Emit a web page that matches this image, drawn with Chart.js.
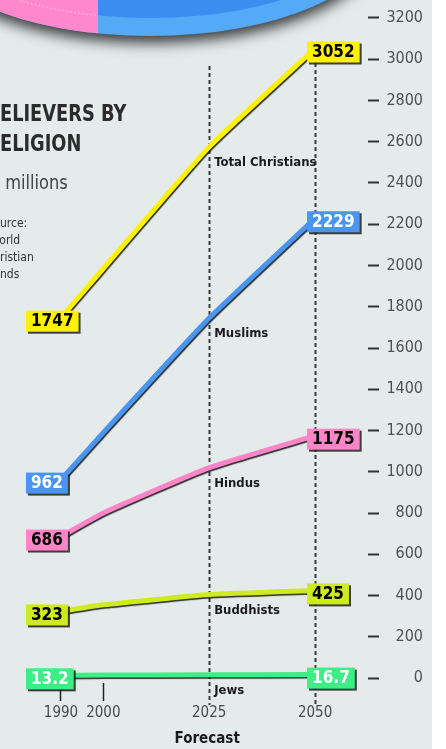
<!DOCTYPE html>
<html>
<head>
<meta charset="utf-8">
<script src="https://cdn.jsdelivr.net/npm/chart.js@4"></script>
<style>
  html, body { margin: 0; padding: 0; background: #ffffff; }
  #wrap { position: relative; width: 446px; height: 749px; }
</style>
</head>
<body>
<div id="wrap"><canvas id="chart" width="446" height="749"></canvas></div>
<script>
// Data (millions of believers)
const years = [1990, 2000, 2025, 2050];
const christians = [1747, 1985, 2575, 3052];
const muslims = [962, 1190, 1745, 2229];
const hindus = [686, 800, 1020, 1175];
const buddhists = [323, 355, 405, 425];
const jews = [13.2, 14.5, 15.8, 16.7];

const seriesNames = ['Total Christians', 'Muslims', 'Hindus', 'Buddhists', 'Jews'];
const seriesColors = ['#fff200', '#4a95ef', '#ff85c8', '#cdeb1e', '#3ded85'];
const boxText = ['#000', '#fff', '#000', '#000', '#fff'];
const leftLabels = ['1747', '962', '686', '323', '13.2'];
const rightLabels = ['3052', '2229', '1175', '425', '16.7'];

const xTicks = [1990, 2000, 2025, 2050];
const yTicks = [0, 200, 400, 600, 800, 1000, 1200, 1400, 1600, 1800, 2000, 2200, 2400, 2600, 2800, 3000, 3200];
const forecastYears = [2025, 2050];

const allSeries = [christians, muslims, hindus, buddhists, jews];

const narrow = '"Liberation Sans Narrow", "DejaVu Sans Condensed", sans-serif';

// Panel background, pie edge at the top and the side texts
const backdrop = {
  id: 'backdrop',
  beforeDraw(chart) {
    const ctx = chart.ctx;
    ctx.save();
    ctx.fillStyle = '#ffffff';
    ctx.fillRect(0, 0, 446, 749);
    ctx.fillStyle = '#e5ebeb';
    ctx.fillRect(0, 0, 432, 749);

    // pie (cut off at the top)
    ctx.save();
    ctx.shadowColor = 'rgba(0,0,0,0.75)';
    ctx.shadowBlur = 14;
    ctx.shadowOffsetY = 7;
    ctx.beginPath();
    ctx.ellipse(150, -64, 230, 100, 0, 0, Math.PI * 2);
    ctx.fillStyle = '#55aaf8';
    ctx.fill();
    ctx.restore();

    ctx.save();
    ctx.beginPath();
    ctx.ellipse(150, -64, 230, 100, 0, 0, Math.PI * 2);
    ctx.clip();
    ctx.beginPath();
    ctx.ellipse(150, -82, 230, 100, 0, 0, Math.PI * 2);
    ctx.fillStyle = '#3b8ef0';
    ctx.fill();
    ctx.fillStyle = '#ff88cc';
    ctx.fillRect(0, -200, 98, 300);
    ctx.beginPath();
    ctx.rect(0, -200, 98, 300);
    ctx.clip();
    ctx.setLineDash([1, 3]);
    ctx.strokeStyle = 'rgba(255,255,255,0.9)';
    ctx.lineWidth = 1;
    ctx.beginPath();
    ctx.ellipse(150, -82, 230, 100, 0, 0, Math.PI * 2);
    ctx.stroke();
    ctx.restore();

    // title block, cut off at the left edge
    const cut = (full, hidden, y, font, color, sx) => {
      ctx.save();
      ctx.font = font;
      ctx.fillStyle = color;
      ctx.textAlign = 'left';
      ctx.textBaseline = 'alphabetic';
      ctx.scale(sx, 1);
      ctx.fillText(full, -ctx.measureText(hidden).width, y);
      ctx.restore();
    };
    const titleFont = 'bold 23px ' + narrow;
    cut('BELIEVERS BY', 'B', 121, titleFont, '#2b2b2b', 0.86);
    cut('RELIGION', 'R', 151, titleFont, '#2b2b2b', 0.86);
    cut('In millions', 'In', 189, '19px ' + narrow, '#444', 0.95);
    const srcFont = '12px ' + narrow;
    cut('Source:', 'So', 227, srcFont, '#333', 1);
    cut('World', 'W', 244, srcFont, '#333', 1);
    cut('Christian', 'Ch', 261, srcFont, '#333', 1);
    cut('Trends', 'Tre', 278, srcFont, '#333', 1);
    ctx.restore();
  },
  beforeDatasetsDraw(chart) {
    const ctx = chart.ctx;
    const x = chart.scales.x;
    ctx.save();
    ctx.strokeStyle = '#3a3a3a';
    ctx.lineWidth = 2;
    ctx.setLineDash([4, 3]);
    forecastYears.forEach((yr, i) => {
      const px = Math.round(x.getPixelForValue(yr)) + 0.5;
      ctx.beginPath();
      ctx.moveTo(px, i === 0 ? 66 : 63);
      ctx.lineTo(px, 705);
      ctx.stroke();
    });
    ctx.restore();
    // shadow under the lines
    ctx.save();
    ctx.shadowColor = 'rgba(0,0,0,0.8)';
    ctx.shadowBlur = 1;
    ctx.shadowOffsetX = 1;
    ctx.shadowOffsetY = 1.5;
  },
  afterDatasetsDraw(chart) {
    const ctx = chart.ctx;
    ctx.restore();
    const x = chart.scales.x;
    const boxFont = 'bold 17px "DejaVu Sans Condensed", "DejaVu Sans", sans-serif';
    const nameFont = 'bold 13px "DejaVu Sans Condensed", "DejaVu Sans", sans-serif';
    ctx.save();
    ctx.textBaseline = 'middle';
    ctx.textAlign = 'left';
    const box = (txt, left, cy, color, tc) => {
      ctx.font = boxFont;
      const w = ctx.measureText(txt).width + 10;
      ctx.fillStyle = 'rgba(30,30,30,0.85)';
      ctx.fillRect(left + 2, cy - 10 + 2, w, 21);
      ctx.fillStyle = color;
      ctx.fillRect(left, cy - 10, w, 21);
      ctx.fillStyle = tc;
      ctx.fillText(txt, left + 5, cy + 1);
    };
    chart.data.datasets.forEach((ds, i) => {
      const pts = chart.getDatasetMeta(i).data;
      const first = pts[0], last = pts[pts.length - 1];
      box(leftLabels[i], first.x - 35, first.y + 3, seriesColors[i], boxText[i]);
      box(rightLabels[i], last.x - 8, last.y + 3, seriesColors[i], boxText[i]);
      // series name next to the 2025 line
      const mid = pts[years.indexOf(2025)];
      ctx.fillStyle = '#1a1a1a';
      ctx.font = nameFont;
      ctx.fillText(seriesNames[i], mid.x + 5, mid.y + 16);
    });
    ctx.fillStyle = '#1a1a1a';
    ctx.textAlign = 'center';
    ctx.font = 'bold 15px ' + narrow;
    ctx.fillText('Forecast', x.getPixelForValue(2025) - 2, 739);
    ctx.restore();
  }
};

const ctx = document.getElementById('chart').getContext('2d');
new Chart(ctx, {
  type: 'line',
  data: {
    labels: years,
    datasets: allSeries.map((vals, i) => ({
      label: seriesNames[i],
      data: vals.map((v, j) => ({ x: years[j], y: v })),
      borderColor: seriesColors[i],
      borderWidth: 5,
      pointRadius: 0,
      tension: 0.15,
      fill: false
    }))
  },
  options: {
    responsive: false,
    animation: false,
    devicePixelRatio: 1,
    layout: { padding: { left: 0, right: 23, top: 0, bottom: 0 } },
    plugins: {
      legend: { display: false },
      tooltip: { enabled: false }
    },
    scales: {
      x: {
        type: 'linear',
        min: 1975.6,
        max: 2062.5,
        afterBuildTicks: (axis) => { axis.ticks = xTicks.map(v => ({ value: v })); },
        afterFit: (axis) => { axis.height = 66; },
        border: { display: false },
        grid: {
          drawOnChartArea: false,
          tickLength: 18,
          tickWidth: 1.5,
          tickColor: (c) => forecastYears.includes(c.tick && c.tick.value) ? 'rgba(0,0,0,0)' : '#222'
        },
        ticks: {
          autoSkip: false,
          maxRotation: 0,
          padding: 3,
          color: '#4a4a4a',
          font: { family: narrow, size: 15 },
          callback: (v) => String(v)
        }
      },
      y: {
        type: 'linear',
        position: 'right',
        min: -24,
        max: 3226,
        afterBuildTicks: (axis) => { axis.ticks = yTicks.map(v => ({ value: v })); },
        afterFit: (axis) => { axis.width = 55; },
        border: { display: false },
        grid: {
          drawOnChartArea: false,
          tickLength: 11,
          tickWidth: 2,
          tickColor: '#333'
        },
        ticks: {
          crossAlign: 'far',
          padding: 3,
          color: '#505050',
          font: { family: narrow, size: 16 },
          callback: (v) => String(v)
        }
      }
    }
  },
  plugins: [backdrop]
});
</script>
</body>
</html>
